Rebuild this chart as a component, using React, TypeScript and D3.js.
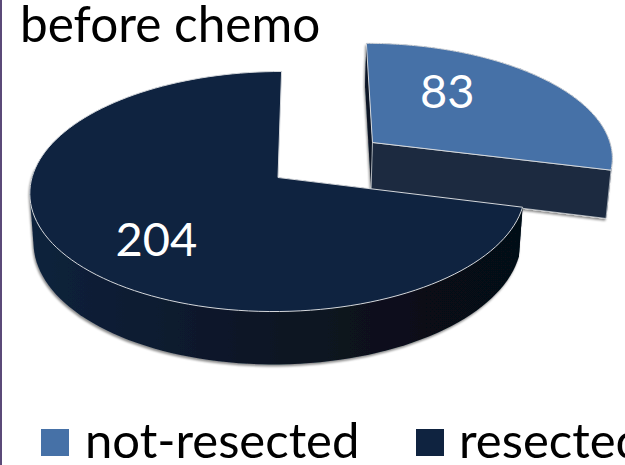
import * as d3 from 'd3';
import React from 'react';

const categories = ['not-resected', 'resected'];
const values = [83, 204];
const topColors = ['#4671a7', '#0f2340'];
const explode = [0.498, 0];
const labelAngles = [35.5, 223];
const labelRadii = [0.596, 0.672];

const width = 625;
const height = 465;
const cx = 278;
const cy = 177.5;
const radiusX = 246;
const radiusY = 118.4;
const persp = 0.1167;
const shear = -4;
const depth = 48.5;
const bottomScale = 0.985;
// past this angle the pie's side is behind its top face
const lastVisible = (275 * Math.PI) / 180;

const project = (u: number, v: number, low = false): [number, number] => {
    const k = low ? bottomScale : 1;
    const w = 1 - persp * v;
    return [cx + (k * radiusX * u + shear * v) / w, cy + (k * radiusY * v + (low ? depth : 0)) / w];
};

const line = d3.line();

const pie = d3
    .pie<number>()
    .sort(null)
    .startAngle(0)
    .endAngle(2 * Math.PI);

export default function App() {
    const arcs = pie(values);

    const slices = arcs.map((a, i) => {
        const mid = (a.startAngle + a.endAngle) / 2;
        const ou = explode[i] * Math.sin(mid);
        const ov = -explode[i] * Math.cos(mid);
        const steps = d3.range(0, 121).map((s) => a.startAngle + ((a.endAngle - a.startAngle) * s) / 120);
        const rim = (low: boolean, ts = steps) => ts.map((t) => project(ou + Math.sin(t), ov - Math.cos(t), low));
        const apex = project(ou, ov);
        const apexLow = project(ou, ov, true);
        const top = rim(false);
        const bottom = rim(true);
        const front = steps.filter((t) => t <= lastVisible);
        return {
            face: line([apex, ...top])! + 'Z',
            outer: line(d3.polygonHull([...rim(false, front), ...rim(true, front)])!)! + 'Z',
            wallStart: line([apex, top[0], bottom[0], apexLow])! + 'Z',
            wallEnd: line([apex, top[top.length - 1], bottom[bottom.length - 1], apexLow])! + 'Z',
            label: project(
                ou + labelRadii[i] * Math.sin((labelAngles[i] * Math.PI) / 180),
                ov - labelRadii[i] * Math.cos((labelAngles[i] * Math.PI) / 180),
            ),
        };
    });

    const font = 'Lato, Carlito, sans-serif';

    return (
        <svg width={width} height={height} style={{ position: 'absolute', left: 0, top: 0 }}>
            <defs>
                <linearGradient id="wall" gradientUnits="userSpaceOnUse" x1={30} x2={520} y1={0} y2={0}>
                    <stop offset="0" stopColor="#10223c" />
                    <stop offset="0.3" stopColor="#0c1a2e" />
                    <stop offset="0.55" stopColor="#091422" />
                    <stop offset="0.8" stopColor="#070f19" />
                    <stop offset="1" stopColor="#060e17" />
                </linearGradient>
                <filter id="shadow" x="-10%" y="-10%" width="120%" height="120%">
                    <feDropShadow dx={-1} dy={2} stdDeviation={1} floodColor="#000" floodOpacity={0.45} />
                </filter>
            </defs>
            <rect x={0} y={0} width={2} height={height} fill="#5b4a78" />

            <text x={20} y={42} fontFamily={font} fontSize={49.5} fill="#000">
                before chemo
            </text>

            {/* exploded slice */}
            <g filter="url(#shadow)">
                <path d={slices[0].outer} fill="#1b2b40" />
                <path d={slices[0].wallStart} fill="#0a1626" />
                <path d={slices[0].wallEnd} fill="#1b2b40" stroke="#fff" strokeWidth={0.6} />
            </g>
            <path d={slices[0].face} fill={topColors[0]} stroke="#d5d8dc" strokeWidth={1} />

            {/* main slice */}
            <g filter="url(#shadow)">
                <path d={slices[1].wallStart} fill="#0a1626" />
                <path d={slices[1].outer} fill="url(#wall)" />
            </g>
            <path d={slices[1].face} fill={topColors[1]} stroke="#d5d8dc" strokeWidth={1} />

            {slices.map((s, i) => (
                <text
                    key={categories[i]}
                    x={s.label[0]}
                    y={s.label[1]}
                    dy="0.35em"
                    textAnchor="middle"
                    fontFamily={font}
                    fontSize={47}
                    fill="#fff"
                >
                    {values[i]}
                </text>
            ))}

            {categories.map((c, i) => (
                <g key={c}>
                    <rect
                        x={i === 0 ? 41 : 416}
                        y={429}
                        width={28}
                        height={27}
                        fill={topColors[i]}
                    />
                    <text x={i === 0 ? 85 : 459} y={458} fontFamily={font} fontSize={49} fill="#000">
                        {c}
                    </text>
                </g>
            ))}
        </svg>
    );
}
